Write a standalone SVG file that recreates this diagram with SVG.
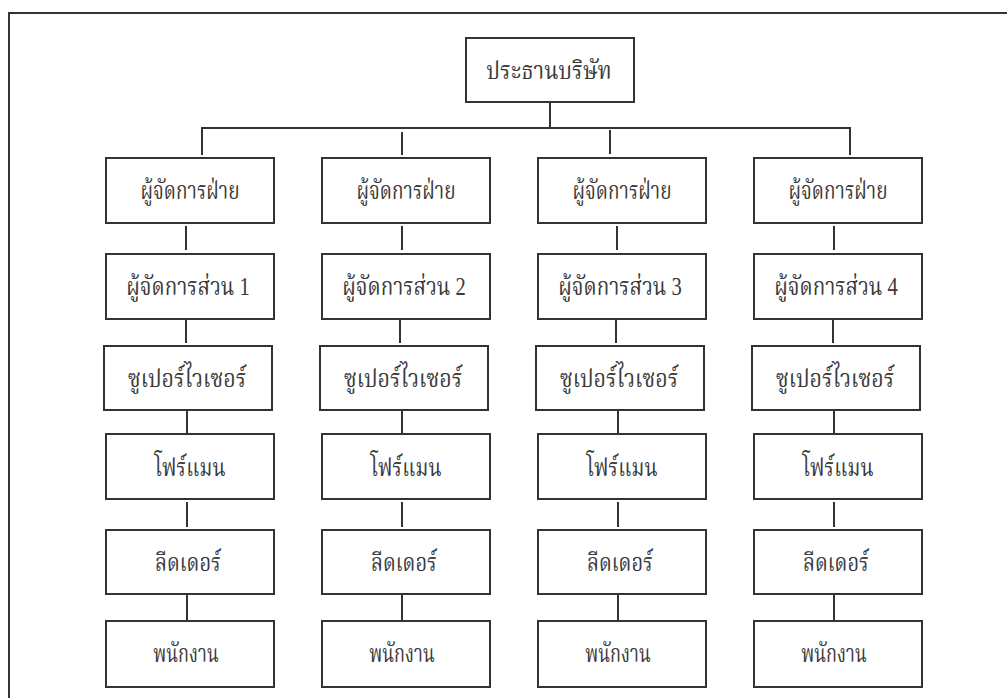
<svg xmlns="http://www.w3.org/2000/svg" width="1007" height="698" viewBox="0 0 1007 698">
<style>
.frame{fill:none;stroke:#333;stroke-width:2}
.box{fill:#fff;stroke:#333;stroke-width:2}
.conn{fill:none;stroke:#333;stroke-width:2}
text{font-family:"Liberation Serif","Noto Serif Thai","Noto Sans Thai","DejaVu Serif",serif;font-size:20px;fill:#3a3a3a;text-anchor:middle}
</style>
<rect width="1007" height="698" fill="#fff"/>
<path class="frame" d="M9,700 V13 H1010"/>
<g id="connectors">
<path class="conn" d="M550,102 V128 M202,155 V128 H850 V155 M402,132 V155 M610,130 V154"/>
<path class="conn" d="M186,226 V250 M186,319 V343 M187,410 V434 M187,502 V527 M187,594 V621"/>
<path class="conn" d="M402,226 V250 M400,319 V343 M402,410 V434 M402,502 V527 M402,594 V621"/>
<path class="conn" d="M617,226 V250 M616,319 V343 M618,410 V434 M618,502 V527 M618,594 V621"/>
<path class="conn" d="M834,226 V250 M833,319 V343 M834,410 V434 M834,502 V527 M834,594 V621"/>
</g>
<g id="president"><rect class="box" x="466" y="38" width="168" height="64"/><text transform="translate(549,79) scale(1.08,1.25)">ประธานบริษัท</text></g>
<g id="c1r1"><rect class="box" x="106" y="158" width="168" height="65"/><text transform="translate(190,199) scale(0.95,1.25)">ผู้จัดการฝ่าย</text></g>
<g id="c2r1"><rect class="box" x="322" y="158" width="168" height="65"/><text transform="translate(406,199) scale(0.95,1.25)">ผู้จัดการฝ่าย</text></g>
<g id="c3r1"><rect class="box" x="538" y="158" width="168" height="65"/><text transform="translate(622,199) scale(0.95,1.25)">ผู้จัดการฝ่าย</text></g>
<g id="c4r1"><rect class="box" x="754" y="158" width="168" height="65"/><text transform="translate(838,199) scale(0.95,1.25)">ผู้จัดการฝ่าย</text></g>
<g id="c1r2"><rect class="box" x="106" y="254" width="168" height="65"/><text transform="translate(188,295) scale(1.03,1.25)">ผู้จัดการส่วน 1</text></g>
<g id="c2r2"><rect class="box" x="322" y="254" width="168" height="65"/><text transform="translate(404,295) scale(1.03,1.25)">ผู้จัดการส่วน 2</text></g>
<g id="c3r2"><rect class="box" x="538" y="254" width="168" height="65"/><text transform="translate(620,295) scale(1.03,1.25)">ผู้จัดการส่วน 3</text></g>
<g id="c4r2"><rect class="box" x="754" y="254" width="168" height="65"/><text transform="translate(836,295) scale(1.03,1.25)">ผู้จัดการส่วน 4</text></g>
<g id="c1r3"><rect class="box" x="104" y="346" width="168" height="64"/><text transform="translate(187,387) scale(1.07,1.25)">ซูเปอร์ไวเซอร์</text></g>
<g id="c2r3"><rect class="box" x="320" y="346" width="168" height="64"/><text transform="translate(403,387) scale(1.07,1.25)">ซูเปอร์ไวเซอร์</text></g>
<g id="c3r3"><rect class="box" x="536" y="346" width="168" height="64"/><text transform="translate(619,387) scale(1.07,1.25)">ซูเปอร์ไวเซอร์</text></g>
<g id="c4r3"><rect class="box" x="752" y="346" width="168" height="64"/><text transform="translate(835,387) scale(1.07,1.25)">ซูเปอร์ไวเซอร์</text></g>
<g id="c1r4"><rect class="box" x="106" y="434" width="168" height="65"/><text transform="translate(190,476) scale(1,1.25)">โฟร์แมน</text></g>
<g id="c2r4"><rect class="box" x="322" y="434" width="168" height="65"/><text transform="translate(406,476) scale(1,1.25)">โฟร์แมน</text></g>
<g id="c3r4"><rect class="box" x="538" y="434" width="168" height="65"/><text transform="translate(622,476) scale(1,1.25)">โฟร์แมน</text></g>
<g id="c4r4"><rect class="box" x="754" y="434" width="168" height="65"/><text transform="translate(838,476) scale(1,1.25)">โฟร์แมน</text></g>
<g id="c1r5"><rect class="box" x="106" y="530" width="168" height="64"/><text transform="translate(188,571) scale(1,1.25)">ลีดเดอร์</text></g>
<g id="c2r5"><rect class="box" x="322" y="530" width="168" height="64"/><text transform="translate(404,571) scale(1,1.25)">ลีดเดอร์</text></g>
<g id="c3r5"><rect class="box" x="538" y="530" width="168" height="64"/><text transform="translate(620,571) scale(1,1.25)">ลีดเดอร์</text></g>
<g id="c4r5"><rect class="box" x="754" y="530" width="168" height="64"/><text transform="translate(836,571) scale(1,1.25)">ลีดเดอร์</text></g>
<g id="c1r6"><rect class="box" x="106" y="621" width="168" height="66"/><text transform="translate(186,662) scale(0.9,1.25)">พนักงาน</text></g>
<g id="c2r6"><rect class="box" x="322" y="621" width="168" height="66"/><text transform="translate(402,662) scale(0.9,1.25)">พนักงาน</text></g>
<g id="c3r6"><rect class="box" x="538" y="621" width="168" height="66"/><text transform="translate(618,662) scale(0.9,1.25)">พนักงาน</text></g>
<g id="c4r6"><rect class="box" x="754" y="621" width="168" height="66"/><text transform="translate(834,662) scale(0.9,1.25)">พนักงาน</text></g>
</svg>
